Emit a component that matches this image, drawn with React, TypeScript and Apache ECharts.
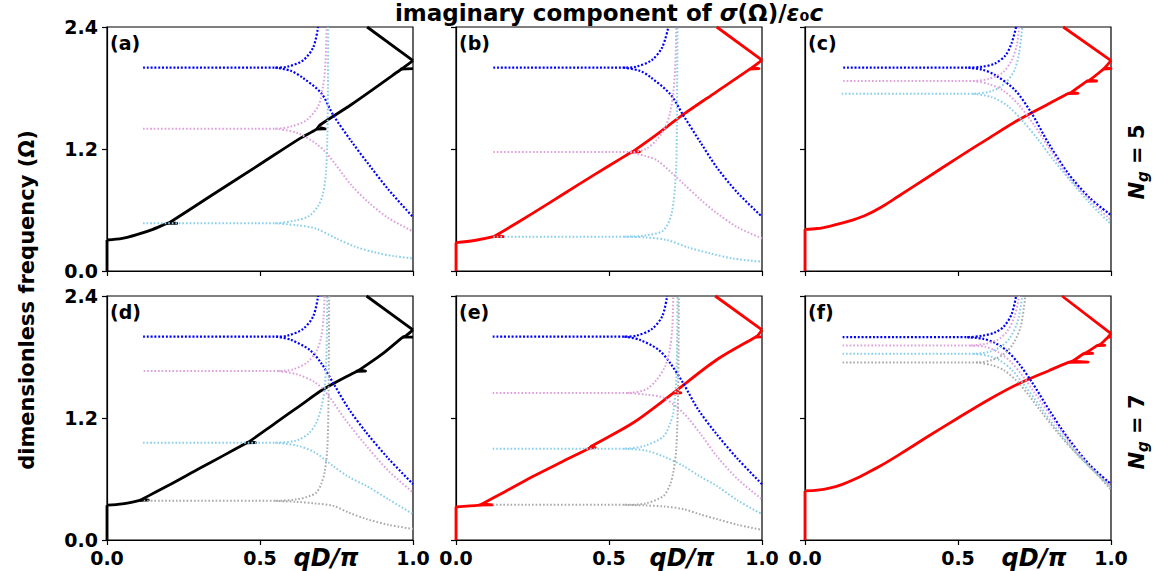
import React, { useEffect, useRef } from "react";
import * as echarts from "echarts";

type Pt = [number, number];

// ---------- colours ----------
const BLUE = "#0000ff";
const PLUM = "#dda0dd";
const SKY = "#87ceeb";
const GREY = "#a9a9a9";
const FONT = "DejaVu Sans";

// ---------- tick labels ----------
const X_TICKS = [0, 0.5, 1.0];
const Y_TICKS = [0, 1.2, 2.4];

// ---------- panel (a) ----------
const A_BLUE_UP: Pt[] = [[0.118, 2.0], [0.55, 2.0], [0.59, 2.01], [0.64, 2.07], [0.674, 2.2], [0.69, 2.4]];
const A_BLUE_DN: Pt[] = [[0.55, 2.0], [0.6, 1.97], [0.64, 1.9], [0.7, 1.75], [0.74, 1.53], [0.8, 1.27], [0.86, 1.03], [0.92, 0.8], [1.0, 0.53]];
const A_PLUM_UP: Pt[] = [[0.118, 1.4], [0.55, 1.4], [0.6, 1.42], [0.65, 1.48], [0.69, 1.62], [0.705, 1.8], [0.713, 2.0], [0.718, 2.4]];
const A_PLUM_DN: Pt[] = [[0.55, 1.4], [0.62, 1.36], [0.68, 1.26], [0.72, 1.15], [0.8, 0.84], [0.86, 0.66], [0.92, 0.52], [1.0, 0.39]];
const A_SKY_UP: Pt[] = [[0.118, 0.47], [0.55, 0.47], [0.62, 0.5], [0.66, 0.54], [0.69, 0.64], [0.705, 0.75], [0.715, 0.95], [0.72, 1.3], [0.722, 1.8], [0.723, 2.4]];
const A_SKY_DN: Pt[] = [[0.55, 0.47], [0.62, 0.45], [0.68, 0.42], [0.75, 0.32], [0.81, 0.24], [0.88, 0.18], [0.94, 0.145], [1.0, 0.125]];
const A_BAND1: Pt[] = [[0, 0.305], [0.05, 0.32], [0.1, 0.36], [0.15, 0.41], [0.195, 0.468], [0.205, 0.478], [0.35, 0.76], [0.5, 1.05], [0.631, 1.305], [0.685, 1.395], [0.696, 1.436], [0.8, 1.64], [0.958, 1.977], [1.0, 2.07]];
const A_EXTRA: Pt[][] = [
  [[0, 0], [0, 0.305]],
  [[0.195, 0.468], [0.228, 0.468], [0.205, 0.478]],
  [[0.685, 1.395], [0.713, 1.397], [0.696, 1.41]],
  [[0.958, 1.985], [1.0, 1.99]],
  [[1.0, 2.07], [0.85, 2.4]],
];

// ---------- panel (b) ----------
const B_BLUE_UP: Pt[] = [[0.122, 2.0], [0.547, 2.0], [0.59, 2.01], [0.64, 2.075], [0.674, 2.2], [0.694, 2.4]];
const B_BLUE_DN: Pt[] = [[0.547, 2.0], [0.6, 1.97], [0.634, 1.91], [0.7, 1.74], [0.743, 1.53], [0.8, 1.26], [0.852, 1.02], [0.92, 0.77], [1.0, 0.534]];
const B_PLUM_UP: Pt[] = [[0.122, 1.17], [0.57, 1.17], [0.62, 1.2], [0.656, 1.29], [0.685, 1.42], [0.699, 1.55], [0.71, 1.75], [0.716, 1.98], [0.72, 2.4]];
const B_PLUM_DN: Pt[] = [[0.57, 1.17], [0.62, 1.13], [0.656, 1.09], [0.7, 0.98], [0.743, 0.86], [0.8, 0.7], [0.852, 0.57], [0.92, 0.43], [1.0, 0.32]];
const B_SKY_UP: Pt[] = [[0.122, 0.338], [0.55, 0.338], [0.62, 0.35], [0.678, 0.4], [0.705, 0.57], [0.719, 0.99], [0.722, 1.6], [0.724, 2.4]];
const B_SKY_DN: Pt[] = [[0.55, 0.338], [0.62, 0.33], [0.689, 0.305], [0.76, 0.23], [0.83, 0.174], [0.91, 0.12], [1.0, 0.092]];
const B_BAND1: Pt[] = [[0, 0.279], [0.06, 0.3], [0.122, 0.338], [0.13, 0.35], [0.2, 0.475], [0.3, 0.66], [0.4, 0.85], [0.5, 1.035], [0.574, 1.17], [0.58, 1.18], [0.65, 1.33], [0.743, 1.54], [0.85, 1.76], [0.96, 1.985], [1.0, 2.075]];
const B_EXTRA: Pt[][] = [
  [[0, 0], [0, 0.279]],
  [[0.122, 0.338], [0.155, 0.338], [0.13, 0.35]],
  [[0.574, 1.17], [0.6, 1.172], [0.58, 1.18]],
  [[0.96, 1.985], [0.99, 1.99], [0.97, 2.0]],
  [[1.0, 2.075], [0.852, 2.4]],
];

// ---------- panel (c) ----------
const C_BLUE_UP: Pt[] = [[0.125, 2.0], [0.534, 2.0], [0.58, 2.01], [0.62, 2.04], [0.655, 2.12], [0.675, 2.24], [0.69, 2.4]];
const C_BLUE_DN: Pt[] = [[0.534, 2.0], [0.58, 1.98], [0.62, 1.93], [0.686, 1.78], [0.741, 1.55], [0.795, 1.26], [0.86, 0.96], [0.93, 0.72], [1.0, 0.55]];
const C_PLUM_UP: Pt[] = [[0.125, 1.87], [0.55, 1.87], [0.6, 1.89], [0.645, 1.95], [0.675, 2.07], [0.692, 2.22], [0.7, 2.4]];
const C_PLUM_DN: Pt[] = [[0.55, 1.87], [0.6, 1.84], [0.65, 1.77], [0.7, 1.63], [0.75, 1.43], [0.8, 1.2], [0.86, 0.93], [0.93, 0.7], [1.0, 0.5]];
const C_SKY_UP: Pt[] = [[0.12, 1.744], [0.55, 1.744], [0.61, 1.77], [0.655, 1.85], [0.685, 1.98], [0.7, 2.15], [0.71, 2.4]];
const C_SKY_DN: Pt[] = [[0.55, 1.744], [0.61, 1.71], [0.66, 1.63], [0.71, 1.48], [0.76, 1.3], [0.81, 1.1], [0.87, 0.88], [0.93, 0.67], [1.0, 0.46]];
const C_BAND1: Pt[] = [[0, 0.41], [0.04, 0.418], [0.08, 0.44], [0.12, 0.47], [0.16, 0.505], [0.2, 0.55], [0.25, 0.63], [0.3, 0.725], [0.4, 0.92], [0.5, 1.115], [0.6, 1.305], [0.7, 1.49], [0.8, 1.65], [0.86, 1.745], [0.87, 1.757], [0.92, 1.866], [0.93, 1.878], [0.975, 1.985], [0.98, 2.0], [1.0, 2.07]];
const C_EXTRA: Pt[][] = [
  [[0, 0], [0, 0.41]],
  [[0.86, 1.745], [0.892, 1.748], [0.87, 1.757]],
  [[0.92, 1.866], [0.953, 1.869], [0.93, 1.878]],
  [[0.975, 1.985], [1.0, 1.99], [0.98, 2.0]],
  [[1.0, 2.07], [0.844, 2.4]],
];

// ---------- panel (d) ----------
const D_BLUE_UP: Pt[] = [[0.118, 2.0], [0.553, 2.0], [0.59, 2.01], [0.64, 2.075], [0.674, 2.2], [0.69, 2.4]];
const D_BLUE_DN: Pt[] = [[0.553, 2.0], [0.6, 1.97], [0.662, 1.87], [0.7, 1.74], [0.739, 1.545], [0.79, 1.29], [0.848, 1.055], [0.92, 0.8], [1.0, 0.549]];
const D_PLUM_UP: Pt[] = [[0.12, 1.662], [0.56, 1.662], [0.61, 1.68], [0.655, 1.75], [0.685, 1.86], [0.7, 2.0], [0.708, 2.2], [0.711, 2.4]];
const D_PLUM_DN: Pt[] = [[0.56, 1.662], [0.62, 1.63], [0.68, 1.55], [0.717, 1.447], [0.78, 1.18], [0.848, 0.924], [0.92, 0.68], [1.0, 0.467]];
const D_SKY_UP: Pt[] = [[0.118, 0.957], [0.55, 0.957], [0.62, 0.98], [0.66, 1.05], [0.684, 1.153], [0.7, 1.3], [0.711, 1.48], [0.717, 1.8], [0.72, 2.4]];
const D_SKY_DN: Pt[] = [[0.55, 0.957], [0.62, 0.93], [0.68, 0.86], [0.739, 0.728], [0.79, 0.62], [0.848, 0.532], [0.92, 0.4], [1.0, 0.255]];
const D_GREY_UP: Pt[] = [[0.12, 0.385], [0.55, 0.385], [0.62, 0.4], [0.66, 0.43], [0.684, 0.467], [0.7, 0.55], [0.711, 0.663], [0.72, 0.9], [0.724, 1.4], [0.726, 2.4]];
const D_GREY_DN: Pt[] = [[0.55, 0.385], [0.62, 0.375], [0.68, 0.36], [0.739, 0.336], [0.79, 0.27], [0.848, 0.206], [0.92, 0.15], [1.0, 0.108]];
const D_BAND1: Pt[] = [[0, 0.343], [0.05, 0.355], [0.107, 0.39], [0.115, 0.402], [0.2, 0.535], [0.3, 0.7], [0.38, 0.83], [0.456, 0.955], [0.465, 0.968], [0.55, 1.15], [0.63, 1.32], [0.706, 1.48], [0.815, 1.658], [0.825, 1.673], [0.9, 1.83], [0.967, 1.995], [0.975, 2.005], [1.0, 2.067]];
const D_EXTRA: Pt[][] = [
  [[0, 0], [0, 0.343]],
  [[0.107, 0.39], [0.135, 0.393], [0.115, 0.402]],
  [[0.456, 0.955], [0.485, 0.958], [0.465, 0.968]],
  [[0.815, 1.658], [0.845, 1.662], [0.825, 1.673]],
  [[0.967, 1.995], [1.0, 1.995]],
  [[1.0, 2.067], [0.848, 2.4]],
];

// ---------- panel (e) ----------
const E_BLUE_UP: Pt[] = [[0.12, 2.0], [0.55, 2.0], [0.59, 2.01], [0.64, 2.075], [0.674, 2.2], [0.69, 2.4]];
const E_BLUE_DN: Pt[] = [[0.55, 2.0], [0.6, 1.97], [0.662, 1.87], [0.7, 1.74], [0.743, 1.54], [0.79, 1.29], [0.852, 1.04], [0.92, 0.8], [1.0, 0.549]];
const E_PLUM_UP: Pt[] = [[0.12, 1.447], [0.56, 1.447], [0.62, 1.48], [0.656, 1.577], [0.685, 1.72], [0.7, 1.9], [0.707, 2.1], [0.71, 2.4]];
const E_PLUM_DN: Pt[] = [[0.56, 1.447], [0.62, 1.43], [0.677, 1.4], [0.743, 1.25], [0.8, 1.04], [0.852, 0.826], [0.92, 0.6], [1.0, 0.4]];
const E_SKY_UP: Pt[] = [[0.12, 0.898], [0.55, 0.898], [0.62, 0.93], [0.678, 1.02], [0.7, 1.15], [0.71, 1.25], [0.72, 1.6], [0.724, 2.4]];
const E_SKY_DN: Pt[] = [[0.55, 0.898], [0.62, 0.88], [0.68, 0.82], [0.743, 0.728], [0.8, 0.62], [0.852, 0.532], [0.92, 0.39], [1.0, 0.255]];
const E_GREY_UP: Pt[] = [[0.12, 0.346], [0.55, 0.346], [0.62, 0.36], [0.678, 0.434], [0.7, 0.55], [0.71, 0.663], [0.72, 0.9], [0.726, 1.5], [0.728, 2.4]];
const E_GREY_DN: Pt[] = [[0.55, 0.346], [0.62, 0.34], [0.68, 0.33], [0.743, 0.304], [0.8, 0.25], [0.852, 0.206], [0.92, 0.15], [1.0, 0.1]];
const E_BAND1: Pt[] = [[0, 0.326], [0.076, 0.343], [0.085, 0.355], [0.16, 0.475], [0.251, 0.625], [0.35, 0.775], [0.437, 0.905], [0.44, 0.918], [0.579, 1.153], [0.71, 1.445], [0.715, 1.458], [0.852, 1.773], [0.978, 1.995], [0.985, 2.008], [1.0, 2.067]];
const E_EXTRA: Pt[][] = [
  [[0, 0], [0, 0.326]],
  [[0.076, 0.343], [0.12, 0.345], [0.085, 0.355]],
  [[0.437, 0.905], [0.455, 0.908], [0.44, 0.918]],
  [[0.71, 1.445], [0.735, 1.447], [0.715, 1.458]],
  [[0.978, 1.995], [1.0, 1.998]],
  [[1.0, 2.067], [0.847, 2.4]],
];

// ---------- panel (f) ----------
const F_BLUE_UP: Pt[] = [[0.123, 1.995], [0.53, 1.995], [0.58, 2.01], [0.62, 2.04], [0.65, 2.1], [0.675, 2.22], [0.69, 2.4]];
const F_BLUE_DN: Pt[] = [[0.53, 1.995], [0.58, 1.98], [0.62, 1.94], [0.66, 1.86], [0.7, 1.73], [0.74, 1.56], [0.8, 1.27], [0.86, 1.0], [0.93, 0.74], [1.0, 0.549]];
const F_PLUM_UP: Pt[] = [[0.123, 1.913], [0.54, 1.913], [0.59, 1.93], [0.63, 1.97], [0.66, 2.05], [0.685, 2.2], [0.7, 2.4]];
const F_PLUM_DN: Pt[] = [[0.54, 1.913], [0.59, 1.9], [0.63, 1.85], [0.67, 1.76], [0.71, 1.62], [0.75, 1.45], [0.81, 1.19], [0.87, 0.94], [0.93, 0.72], [1.0, 0.532]];
const F_SKY_UP: Pt[] = [[0.123, 1.832], [0.55, 1.832], [0.6, 1.85], [0.64, 1.9], [0.67, 1.99], [0.695, 2.15], [0.71, 2.4]];
const F_SKY_DN: Pt[] = [[0.55, 1.832], [0.6, 1.81], [0.64, 1.76], [0.68, 1.66], [0.72, 1.51], [0.76, 1.35], [0.82, 1.1], [0.88, 0.88], [0.94, 0.69], [1.0, 0.516]];
const F_GREY_UP: Pt[] = [[0.123, 1.747], [0.56, 1.747], [0.61, 1.77], [0.65, 1.83], [0.68, 1.93], [0.705, 2.1], [0.72, 2.4]];
const F_GREY_DN: Pt[] = [[0.56, 1.747], [0.61, 1.72], [0.65, 1.67], [0.69, 1.57], [0.73, 1.43], [0.77, 1.27], [0.83, 1.04], [0.89, 0.84], [0.95, 0.66], [1.0, 0.493]];
const F_BAND1: Pt[] = [[0, 0.483], [0.04, 0.49], [0.08, 0.51], [0.12, 0.545], [0.16, 0.595], [0.2, 0.655], [0.25, 0.735], [0.3, 0.825], [0.4, 1.015], [0.5, 1.2], [0.6, 1.38], [0.7, 1.54], [0.8, 1.67], [0.861, 1.747], [0.875, 1.76], [0.91, 1.832], [0.92, 1.845], [0.955, 1.913], [0.965, 1.925], [0.99, 1.995], [1.0, 2.03]];
const F_EXTRA: Pt[][] = [
  [[0, 0], [0, 0.483]],
  [[0.861, 1.747], [0.925, 1.75], [0.875, 1.76]],
  [[0.91, 1.832], [0.94, 1.835], [0.92, 1.845]],
  [[0.955, 1.913], [0.98, 1.915], [0.965, 1.925]],
  [[0.99, 1.995], [1.0, 1.998]],
  [[1.0, 2.03], [0.84, 2.4]],
];

// ---------- labels ----------
const PANEL_TAGS = ["(a)", "(b)", "(c)", "(d)", "(e)", "(f)"];
const ROW_LABELS = ["5", "7"];

// ---------- layout ----------
const GRID_POS = [
  { left: 107, top: 27 },
  { left: 456, top: 27 },
  { left: 805, top: 27 },
  { left: 107, top: 296 },
  { left: 456, top: 296 },
  { left: 805, top: 296 },
];
const GW = 306;
const GH = 244;
const QD_X = [326, 682, 1034];

type Dotted = { up: Pt[]; dn: Pt[]; color: string };
type Panel = { band: Pt[]; extra: Pt[][]; solidColor: string; dotted: Dotted[] };

const PANELS: Panel[] = [
  { band: A_BAND1, extra: A_EXTRA, solidColor: "#000000", dotted: [
    { up: A_BLUE_UP, dn: A_BLUE_DN, color: BLUE },
    { up: A_PLUM_UP, dn: A_PLUM_DN, color: PLUM },
    { up: A_SKY_UP, dn: A_SKY_DN, color: SKY },
  ] },
  { band: B_BAND1, extra: B_EXTRA, solidColor: "#ff0000", dotted: [
    { up: B_BLUE_UP, dn: B_BLUE_DN, color: BLUE },
    { up: B_PLUM_UP, dn: B_PLUM_DN, color: PLUM },
    { up: B_SKY_UP, dn: B_SKY_DN, color: SKY },
  ] },
  { band: C_BAND1, extra: C_EXTRA, solidColor: "#ff0000", dotted: [
    { up: C_BLUE_UP, dn: C_BLUE_DN, color: BLUE },
    { up: C_PLUM_UP, dn: C_PLUM_DN, color: PLUM },
    { up: C_SKY_UP, dn: C_SKY_DN, color: SKY },
  ] },
  { band: D_BAND1, extra: D_EXTRA, solidColor: "#000000", dotted: [
    { up: D_BLUE_UP, dn: D_BLUE_DN, color: BLUE },
    { up: D_PLUM_UP, dn: D_PLUM_DN, color: PLUM },
    { up: D_SKY_UP, dn: D_SKY_DN, color: SKY },
    { up: D_GREY_UP, dn: D_GREY_DN, color: GREY },
  ] },
  { band: E_BAND1, extra: E_EXTRA, solidColor: "#ff0000", dotted: [
    { up: E_BLUE_UP, dn: E_BLUE_DN, color: BLUE },
    { up: E_PLUM_UP, dn: E_PLUM_DN, color: PLUM },
    { up: E_SKY_UP, dn: E_SKY_DN, color: SKY },
    { up: E_GREY_UP, dn: E_GREY_DN, color: GREY },
  ] },
  { band: F_BAND1, extra: F_EXTRA, solidColor: "#ff0000", dotted: [
    { up: F_BLUE_UP, dn: F_BLUE_DN, color: BLUE },
    { up: F_PLUM_UP, dn: F_PLUM_DN, color: PLUM },
    { up: F_SKY_UP, dn: F_SKY_DN, color: SKY },
    { up: F_GREY_UP, dn: F_GREY_DN, color: GREY },
  ] },
];

function buildOption() {
  const grid = GRID_POS.map((g) => ({
    left: g.left,
    top: g.top,
    width: GW,
    height: GH,
    show: true,
    borderColor: "#000",
    borderWidth: 1.2,
    backgroundColor: "transparent",
  }));
  const axisLabelBase = {
    color: "#000",
    fontFamily: FONT,
    fontWeight: "bold" as const,
    fontSize: 19,
    formatter: (v: number) => v.toFixed(1),
    showMinLabel: true,
    showMaxLabel: true,
  };
  const xAxis = GRID_POS.map((_, i) => ({
    type: "value",
    gridIndex: i,
    min: X_TICKS[0],
    max: X_TICKS[X_TICKS.length - 1],
    interval: X_TICKS[1] - X_TICKS[0],
    axisLine: { show: true, onZero: false, lineStyle: { color: "#000", width: 1.2 } },
    axisTick: { show: true, length: 5, lineStyle: { color: "#000", width: 1.2 } },
    axisLabel: { ...axisLabelBase, show: i >= 3, margin: 8 },
    splitLine: { show: false },
  }));
  const yAxis = GRID_POS.map((_, i) => ({
    type: "value",
    gridIndex: i,
    min: Y_TICKS[0],
    max: Y_TICKS[Y_TICKS.length - 1],
    interval: Y_TICKS[1] - Y_TICKS[0],
    axisLine: { show: true, onZero: false, lineStyle: { color: "#000", width: 1.2 } },
    axisTick: { show: true, length: 5, lineStyle: { color: "#000", width: 1.2 } },
    axisLabel: { ...axisLabelBase, show: i % 3 === 0, margin: 9 },
    splitLine: { show: false },
  }));

  const series: any[] = [];
  PANELS.forEach((p, i) => {
    const solidStyle = { color: p.solidColor, width: 2.8, join: "round", cap: "butt" };
    series.push({
      type: "line",
      xAxisIndex: i,
      yAxisIndex: i,
      data: p.band,
      symbol: "none",
      showSymbol: false,
      silent: true,
      clip: true,
      smooth: 0.3,
      z: 2,
      lineStyle: solidStyle,
    });
    p.extra.forEach((seg) => {
      series.push({
        type: "line",
        xAxisIndex: i,
        yAxisIndex: i,
        data: seg,
        symbol: "none",
        showSymbol: false,
        silent: true,
        clip: true,
        z: 2,
        lineStyle: solidStyle,
      });
    });
    p.dotted.forEach((d) => {
      const isBlue = d.color === BLUE;
      const ls = {
        color: d.color,
        width: isBlue ? 2.2 : 2,
        type: isBlue ? [2, 1.8] : [1.6, 2],
      };
      [d.up, d.dn].forEach((arr) => {
        series.push({
          type: "line",
          xAxisIndex: i,
          yAxisIndex: i,
          data: arr,
          symbol: "none",
          showSymbol: false,
          silent: true,
          clip: true,
          smooth: 0.3,
          z: 3,
          lineStyle: ls,
        });
      });
    });
  });

  const graphic: any[] = [];
  graphic.push({
    type: "text",
    x: 609,
    y: 13,
    style: {
      text: "imaginary component of {i|σ}(Ω)/{i|ε}₀{i|c}",
      fontFamily: FONT,
      fontWeight: "bold",
      fontSize: 23,
      fill: "#000",
      align: "center",
      verticalAlign: "middle",
      rich: {
        i: { fontFamily: FONT, fontWeight: "bold", fontStyle: "italic", fontSize: 23, fill: "#000" },
      },
    },
  });
  graphic.push({
    type: "text",
    x: 27,
    y: 300,
    rotation: Math.PI / 2,
    style: {
      text: "dimensionless frequency (Ω)",
      fontFamily: FONT,
      fontWeight: "bold",
      fontSize: 21,
      fill: "#000",
      align: "center",
      verticalAlign: "middle",
    },
  });
  ROW_LABELS.forEach((n, r) => {
    graphic.push({
      type: "text",
      x: 1137,
      y: r === 0 ? 162 : 432,
      rotation: Math.PI / 2,
      style: {
        text: "{n|N}{g|g}{t| = " + n + "}",
        align: "center",
        verticalAlign: "middle",
        fill: "#000",
        rich: {
          n: { fontFamily: FONT, fontWeight: "bold", fontStyle: "italic", fontSize: 21, lineHeight: 27, verticalAlign: "middle", fill: "#000" },
          g: { fontFamily: FONT, fontWeight: "bold", fontStyle: "italic", fontSize: 15, lineHeight: 27, verticalAlign: "bottom", fill: "#000" },
          t: { fontFamily: FONT, fontWeight: "bold", fontSize: 21, lineHeight: 27, verticalAlign: "middle", fill: "#000" },
        },
      },
    });
  });
  PANEL_TAGS.forEach((t, i) => {
    graphic.push({
      type: "text",
      x: GRID_POS[i].left + 3,
      y: GRID_POS[i].top + 6,
      style: {
        text: t,
        fontFamily: FONT,
        fontWeight: "bold",
        fontSize: 19,
        fill: "#000",
        align: "left",
        verticalAlign: "top",
      },
    });
  });
  QD_X.forEach((x) => {
    graphic.push({
      type: "text",
      x,
      y: 558,
      style: {
        text: "qD/π",
        fontFamily: FONT,
        fontWeight: "bold",
        fontStyle: "italic",
        fontSize: 24,
        fill: "#000",
        align: "center",
        verticalAlign: "middle",
      },
    });
  });

  return {
    animation: false,
    backgroundColor: "#ffffff",
    grid,
    xAxis,
    yAxis,
    series,
    graphic,
  };
}

export default function App() {
  const ref = useRef<HTMLDivElement | null>(null);
  useEffect(() => {
    if (!ref.current) return;
    const chart = echarts.init(ref.current, undefined, { renderer: "svg" });
    chart.setOption(buildOption() as any);
    return () => {
      chart.dispose();
    };
  }, []);
  return (
    <div
      ref={ref}
      style={{ position: "absolute", left: 0, top: 0, width: 1153, height: 571 }}
    />
  );
}
